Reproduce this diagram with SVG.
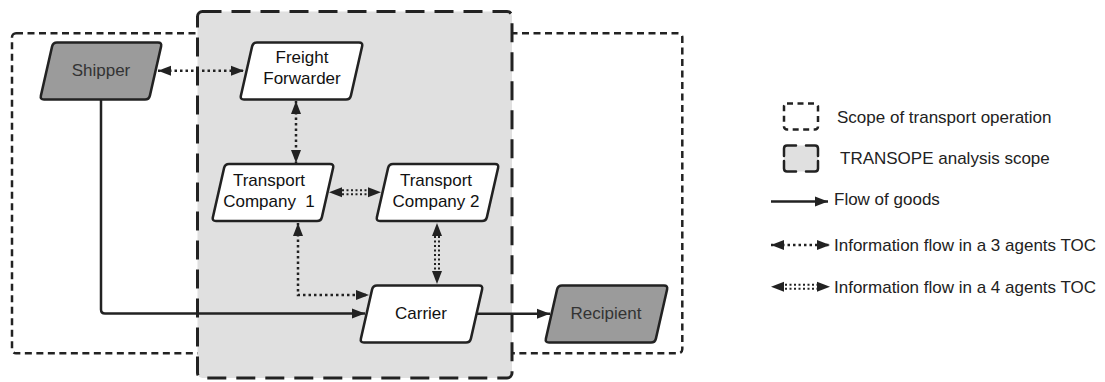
<svg xmlns="http://www.w3.org/2000/svg" width="1105" height="382" viewBox="0 0 1105 382">
  <style>
    .lbl { font-family: "Liberation Sans", Arial, sans-serif; font-size: 17px; fill: #111; text-anchor: middle; }
    .lbl.dim { fill: #333; }
    .leg { font-family: "Liberation Sans", Arial, sans-serif; font-size: 17px; fill: #222; }
    .node { stroke: #222; stroke-width: 2.5; stroke-linejoin: round; }
    .white { fill: #ffffff; }
    .grey { fill: #9b9b9b; }
    .scope { fill: none; stroke: #222; stroke-width: 2.5; stroke-dasharray: 7 4.5; }
    .analysis { fill: #e0e0e0; stroke: #222; stroke-width: 3; stroke-dasharray: 19 10; }
    .goods { fill: none; stroke: #222; stroke-width: 2.5; }
    .info3 { fill: none; stroke: #222; stroke-width: 2.5; stroke-dasharray: 2.5 3; }
    .info4 { fill: none; stroke: #222; stroke-width: 2; stroke-dasharray: 2 2.5; }
    .guide { fill: none; stroke: none; }
    .corner { fill: none; stroke: #222; stroke-width: 2.5; stroke-linecap: round; }
  </style>
  <defs>
    <marker id="ah" viewBox="0 0 13 11" refX="13" refY="5.5" markerWidth="13" markerHeight="11" markerUnits="userSpaceOnUse" orient="auto-start-reverse">
      <path d="M0,0.5 L13,5.5 L0,10.5 z" fill="#222"/>
    </marker>
  </defs>

  <!-- scope areas -->
  <g id="scopes">
    <rect id="transport-operation-scope" class="scope" x="12" y="33.3" width="670.3" height="320" rx="4"/>
    <rect id="transope-scope" class="analysis" x="197.5" y="11.5" width="314.5" height="366.5" rx="5"/>
  </g>

  <!-- connectors -->
  <g id="connectors">
    <!-- goods flow -->
    <path class="goods" d="M101,100 L101,309.5 Q101,313.5 105,313.5 L365,313.5" marker-end="url(#ah)"/>
    <path class="goods" d="M472,313.7 L550,313.7" marker-end="url(#ah)"/>
    <!-- information flow, 3 agents -->
    <path class="info3" d="M158,70.7 L244,70.7" marker-start="url(#ah)" marker-end="url(#ah)"/>
    <path class="info3" d="M296,101 L296,163" marker-start="url(#ah)" marker-end="url(#ah)"/>
    <path class="info3" d="M298,223 L298,295 L369,295" marker-start="url(#ah)" marker-end="url(#ah)"/>
    <!-- information flow, 4 agents -->
    <path class="guide" d="M329,192.3 L381,192.3" marker-start="url(#ah)" marker-end="url(#ah)"/>
    <path class="info4" d="M342,190.3 L368,190.3 M342,194.3 L368,194.3"/>
    <path class="guide" d="M437,223 L437,284" marker-start="url(#ah)" marker-end="url(#ah)"/>
    <path class="info4" d="M435,236 L435,271 M439,236 L439,271"/>
  </g>

  <!-- nodes -->
  <g id="shipper">
    <path class="node grey" d="M57,42.5 L158,42.5 Q162,42.5 161.1,46.4 L149.9,95.6 Q149,99.5 145,99.5 L44,99.5 Q40,99.5 40.9,95.6 L52.1,46.4 Q53,42.5 57,42.5 Z"/>
    <text class="lbl dim" x="101" y="76">Shipper</text>
  </g>
  <g id="freight-forwarder">
    <path class="node white" d="M257,42.5 L359,42.5 Q363,42.5 362.1,46.4 L350.9,95.6 Q350,99.5 346,99.5 L244,99.5 Q240,99.5 240.9,95.6 L252.1,46.4 Q253,42.5 257,42.5 Z"/>
    <text class="lbl" x="302" y="63">Freight</text>
    <text class="lbl" x="302" y="84">Forwarder</text>
  </g>
  <g id="transport-company-1">
    <path class="node white" d="M229,164 L330,164 Q334,164 333.1,167.9 L321.9,217.1 Q321,221 317,221 L216,221 Q212,221 212.9,217.1 L224.1,167.9 Q225,164 229,164 Z"/>
    <text class="lbl" x="269" y="186">Transport</text>
    <text class="lbl" x="269" y="207" xml:space="preserve" style="white-space:pre">Company  1</text>
  </g>
  <g id="transport-company-2">
    <path class="node white" d="M393,164 L495,164 Q499,164 498.1,167.9 L486.9,217.1 Q486,221 482,221 L380,221 Q376,221 376.9,217.1 L388.1,167.9 Q389,164 393,164 Z"/>
    <text class="lbl" x="436" y="186">Transport</text>
    <text class="lbl" x="436" y="207">Company 2</text>
  </g>
  <g id="carrier">
    <path class="node white" d="M377,285.5 L479,285.5 Q483,285.5 482.1,289.4 L470.9,338.6 Q470,342.5 466,342.5 L364,342.5 Q360,342.5 360.9,338.6 L372.1,289.4 Q373,285.5 377,285.5 Z"/>
    <text class="lbl" x="421" y="319">Carrier</text>
  </g>
  <g id="recipient">
    <path class="node grey" d="M562,285.5 L664,285.5 Q668,285.5 667.1,289.4 L655.9,338.6 Q655,342.5 651,342.5 L549,342.5 Q545,342.5 545.9,338.6 L557.1,289.4 Q558,285.5 562,285.5 Z"/>
    <text class="lbl dim" x="606" y="319">Recipient</text>
  </g>

  <!-- legend -->
  <g id="legend">
    <rect class="scope" x="784" y="103.5" width="34" height="26" rx="3" style="stroke-dasharray:6 4.5"/>
    <text class="leg" x="837" y="122.7">Scope of transport operation</text>

    <rect x="784" y="145.5" width="34" height="26" rx="3" fill="#e0e0e0"/>
    <path class="corner" d="M784,156 V148.5 Q784,145.5 787,145.5 H796 M806,145.5 H815 Q818,145.5 818,148.5 V156 M818,161 V168.5 Q818,171.5 815,171.5 H806 M796,171.5 H787 Q784,171.5 784,168.5 V161"/>
    <text class="leg" x="840" y="164">TRANSOPE analysis scope</text>

    <path class="goods" d="M771,201.5 L828,201.5" marker-end="url(#ah)"/>
    <text class="leg" x="834" y="204.5">Flow of goods</text>

    <path class="info3" d="M771,245 L830,245" marker-start="url(#ah)" marker-end="url(#ah)"/>
    <text class="leg" x="834" y="251">Information flow in a 3 agents TOC</text>

    <path class="guide" d="M771,286.7 L830,286.7" marker-start="url(#ah)" marker-end="url(#ah)"/>
    <path class="info4" d="M785,284.7 L817,284.7 M785,288.7 L817,288.7"/>
    <text class="leg" x="834" y="292.7">Information flow in a 4 agents TOC</text>
  </g>
</svg>
